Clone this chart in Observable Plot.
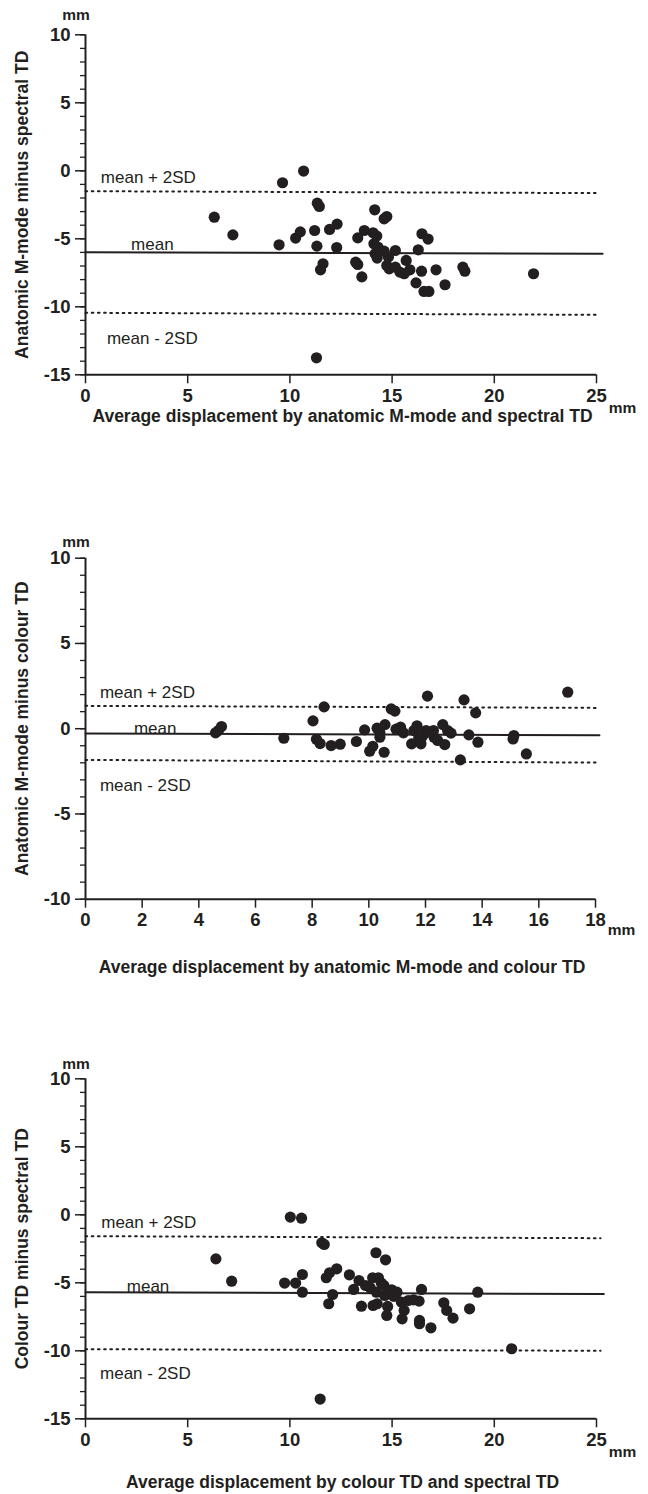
<!DOCTYPE html>
<html><head><meta charset="utf-8">
<script src="https://cdn.jsdelivr.net/npm/d3@7"></script>
<script src="https://cdn.jsdelivr.net/npm/@observablehq/plot@0.6"></script>
<style>
body{margin:0;background:#fff;}
#wrap{position:relative;width:648px;height:1494px;background:#fff;}
#wrap svg{position:absolute;left:0;}
</style></head><body><div id="wrap"></div>
<script>
const INK = "#231f20";

// ---------- Panel 1: anatomic M-mode vs spectral TD ----------
const avg1 = [6.30,7.21,9.64,10.67,9.47,10.28,10.51,11.21,11.34,11.44,11.32,11.62,11.50,11.94,12.31,12.29,11.30,13.32,13.22,13.32,13.52,13.64,14.15,14.61,14.74,14.07,14.25,14.11,14.31,14.17,14.27,14.61,14.82,14.74,14.86,15.16,15.16,15.38,15.69,15.87,15.59,16.28,16.46,16.76,16.44,16.17,16.56,16.80,17.15,17.59,18.46,18.56,21.92];
const diff1 = [-3.41,-4.71,-0.88,-0.02,-5.44,-4.95,-4.49,-4.39,-2.38,-2.62,-5.54,-6.84,-7.28,-4.31,-3.92,-5.64,-13.75,-4.93,-6.72,-6.89,-7.80,-4.39,-2.87,-3.53,-3.36,-4.56,-4.80,-5.37,-5.61,-6.10,-6.42,-5.91,-6.35,-6.96,-7.21,-5.86,-7.08,-7.45,-6.59,-7.28,-7.57,-5.81,-4.63,-5.02,-7.38,-8.24,-8.87,-8.87,-7.28,-8.38,-7.08,-7.38,-7.57];
const mean1 = [-5.98, -6.10], upper1 = [-1.50, -1.64], lower1 = [-10.44, -10.59];
const lineEnd1 = [25.3, 25.15, 25.1];
const xTicks1 = [0,5,10,15,20,25];
const yTicks1 = [-15,-10,-5,0,5,10];

// ---------- Panel 2: anatomic M-mode vs colour TD ----------
const avg2 = [4.59,4.69,4.80,7.00,8.03,8.42,8.15,8.28,8.67,8.99,9.56,9.85,10.03,10.14,10.29,10.39,10.39,10.54,10.57,10.79,10.92,10.96,11.12,11.22,11.51,11.59,11.70,11.76,11.84,11.95,12.02,12.07,12.28,12.43,12.61,12.68,12.78,12.90,13.23,13.36,13.53,13.77,13.85,15.09,15.12,15.56,17.02,11.89,12.30];
const diff2 = [-0.24,-0.11,0.13,-0.56,0.46,1.28,-0.62,-0.87,-0.99,-0.91,-0.75,-0.07,-1.32,-1.03,0.03,-0.50,-0.24,-1.38,0.24,1.16,1.03,-0.03,0.09,-0.24,-0.89,-0.11,0.17,-0.54,-0.89,-0.30,-0.11,1.91,-0.11,-0.69,0.24,-0.93,-0.11,-0.26,-1.83,1.69,-0.36,0.93,-0.79,-0.60,-0.40,-1.48,2.14,-0.45,-0.50];
const mean2 = [-0.28, -0.38], upper2 = [1.34, 1.22], lower2 = [-1.83, -1.99];
const lineEnd2 = [18.14, 18.14, 18.14];
const xTicks2 = [0,2,4,6,8,10,12,14,16,18];
const yTicks2 = [-10,-5,0,5,10];

// ---------- Panel 3: colour TD vs spectral TD ----------
const avg3 = [6.38,7.15,9.74,10.02,10.57,10.28,10.61,10.61,11.56,11.68,11.48,11.78,11.94,12.29,12.09,11.90,12.91,13.12,13.38,13.50,13.70,13.93,14.05,14.21,14.68,14.33,14.47,14.23,14.07,14.27,14.60,14.64,14.78,14.74,14.98,15.08,15.24,15.45,15.49,15.59,15.79,16.05,16.32,16.34,16.34,16.44,16.90,17.53,17.67,17.98,18.79,19.19,20.85];
const diff3 = [-3.24,-4.88,-5.02,-0.17,-0.25,-5.02,-4.39,-5.69,-2.06,-2.18,-13.55,-4.63,-4.26,-3.97,-5.86,-6.54,-4.41,-5.49,-4.83,-6.72,-5.20,-5.37,-4.63,-2.79,-3.31,-4.63,-5.02,-5.69,-6.67,-6.54,-5.20,-5.93,-6.74,-7.40,-5.51,-6.00,-5.69,-6.42,-7.65,-7.03,-6.30,-6.25,-6.35,-7.77,-8.01,-5.49,-8.31,-6.47,-7.03,-7.60,-6.91,-5.69,-9.85];
const mean3 = [-5.69, -5.83], upper3 = [-1.57, -1.72], lower3 = [-9.88, -10.0];
const lineEnd3 = [25.36, 25.2, 25.2];
const xTicks3 = [0,5,10,15,20,25];
const yTicks3 = [-15,-10,-5,0,5,10];

// annotation texts and their data anchor positions
const labelTexts = ["mean + 2SD", "mean", "mean - 2SD"];
const labelX1 = [0.75, 2.23, 1.05], labelY1 = [-0.47, -5.42, -12.3];
const labelX2 = [0.51, 1.71, 0.51], labelY2 = [2.14, 0.02, -3.33];
const labelX3 = [0.77, 2.02, 0.71], labelY3 = [-0.54, -5.25, -11.69];

const FONT = "'Liberation Sans', Arial, Helvetica, sans-serif";

function panel(o) {
  const pts = o.xs.map((x, i) => ({x, y: o.ys[i]}));
  const seg = (v, end) => [{x: 0, y: v[0]}, {x: end, y: v[1]}];
  const labels = labelTexts.map((t, i) => ({x: o.lx[i], y: o.ly[i], t}));
  const [y0, y1] = o.yDomain;
  const svg = Plot.plot({
    width: 648, height: o.height,
    marginLeft: 85, marginRight: o.marginRight, marginTop: o.marginTop, marginBottom: o.marginBottom,
    style: {fontFamily: FONT, color: INK, background: "transparent", overflow: "visible"},
    x: {domain: o.xDomain, label: null},
    y: {domain: o.yDomain, label: null},
    marks: [
      Plot.axisY({ticks: d3.range(y0, y1 + 1), tickSize: 5, text: null, strokeWidth: 1.3, label: null}),
      Plot.axisY({ticks: o.yTicks, tickSize: 10, tickPadding: 5, fontSize: 18.5, fontWeight: "bold", strokeWidth: 1.5, label: null, tickFormat: d => String(d)}),
      Plot.axisX({ticks: o.xTicks, tickSize: 9, tickPadding: 5, fontSize: 18.5, fontWeight: "bold", strokeWidth: 1.5, label: null, tickFormat: d => String(d)}),
      Plot.ruleX([0], {y1: y0, y2: y1, stroke: INK, strokeWidth: 2}),
      Plot.ruleY([y0], {x1: o.xDomain[0], x2: o.xDomain[1], stroke: INK, strokeWidth: 2}),
      Plot.line(seg(o.upper, o.ends[1]), {x: "x", y: "y", stroke: INK, strokeWidth: 2, strokeDasharray: "1.7,4.5"}),
      Plot.line(seg(o.lower, o.ends[2]), {x: "x", y: "y", stroke: INK, strokeWidth: 2, strokeDasharray: "1.7,4.5"}),
      Plot.line(seg(o.mean, o.ends[0]), {x: "x", y: "y", stroke: INK, strokeWidth: 2}),
      Plot.dot(pts, {x: "x", y: "y", r: 5.6, fill: INK, stroke: "none"}),
      Plot.text(labels, {x: "x", y: "y", text: "t", textAnchor: "start", lineAnchor: "middle", fontSize: 17, fill: INK}),
      Plot.text([o.yTitle], {frameAnchor: "left", textAnchor: "middle", lineAnchor: "middle", rotate: -90, dx: -63, fontSize: 17.5, fontWeight: "bold", fill: INK}),
      Plot.text([o.xTitle], {frameAnchor: "bottom", textAnchor: "middle", lineAnchor: "middle", dy: o.xTitleDy, dx: 1.5, fontSize: 17.5, fontWeight: "bold", fill: INK}),
      Plot.text(["mm"], {frameAnchor: "top-left", textAnchor: "middle", lineAnchor: "middle", dx: -9.5, dy: o.mmTopDy, fontSize: 15.5, fontWeight: "bold", fill: INK}),
      Plot.text(["mm"], {frameAnchor: "bottom-right", textAnchor: "middle", lineAnchor: "middle", dx: 26, dy: o.mmRightDy, fontSize: 15.5, fontWeight: "bold", fill: INK})
    ]
  });
  svg.style.top = o.top + "px";
  return svg;
}

const wrap = document.getElementById("wrap");
wrap.appendChild(panel({
  xs: avg1, ys: diff1, xDomain: [0, 25], yDomain: [-15, 10], xTicks: xTicks1, yTicks: yTicks1,
  mean: mean1, upper: upper1, lower: lower1, ends: lineEnd1, lx: labelX1, ly: labelY1,
  yTitle: "Anatomic M-mode minus spectral TD",
  xTitle: "Average displacement by anatomic M-mode and spectral TD",
  top: 0, height: 430, marginTop: 34.3, marginBottom: 55.7, marginRight: 52,
  xTitleDy: 41.7, mmTopDy: -19.3, mmRightDy: 33.7
}));
wrap.appendChild(panel({
  xs: avg2, ys: diff2, xDomain: [0, 18], yDomain: [-10, 10], xTicks: xTicks2, yTicks: yTicks2,
  mean: mean2, upper: upper2, lower: lower2, ends: lineEnd2, lx: labelX2, ly: labelY2,
  yTitle: "Anatomic M-mode minus colour TD",
  xTitle: "Average displacement by anatomic M-mode and colour TD",
  top: 520, height: 460, marginTop: 37.7, marginBottom: 81.3, marginRight: 53,
  xTitleDy: 68.3, mmTopDy: -16, mmRightDy: 31.3
}));
wrap.appendChild(panel({
  xs: avg3, ys: diff3, xDomain: [0, 25], yDomain: [-15, 10], xTicks: xTicks3, yTicks: yTicks3,
  mean: mean3, upper: upper3, lower: lower3, ends: lineEnd3, lx: labelX3, ly: labelY3,
  yTitle: "Colour TD minus spectral TD",
  xTitle: "Average displacement by colour TD and spectral TD",
  top: 1040, height: 454, marginTop: 38.3, marginBottom: 75.7, marginRight: 52,
  xTitleDy: 63.4, mmTopDy: -15, mmRightDy: 33.4
}));
</script>
</body></html>
